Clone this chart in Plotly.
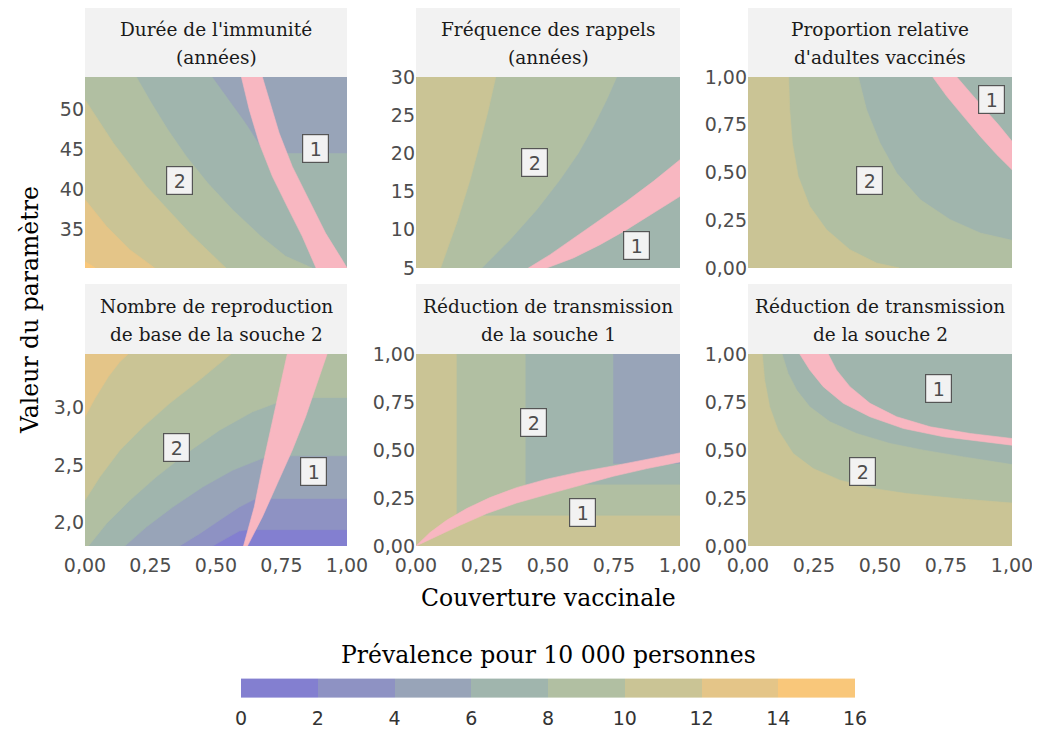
import plotly.graph_objects as go
from plotly.subplots import make_subplots

W, H = 1040, 734

# ---------------- data ----------------
levels = [0, 2, 4, 6, 8, 10, 12, 14, 16]
level_colors = ["#837fd0", "#8e92c3", "#98a4b8", "#a0b5ad",
                "#b1bfa2", "#cac495", "#e4c588", "#f9c77a"]
band_color = "#f8b7c1"
x_ticks = [0, 0.25, 0.5, 0.75, 1.0]

titles = [
    ("Durée de l'immunité", "(années)"),
    ("Fréquence des rappels", "(années)"),
    ("Proportion relative", "d'adultes vaccinés"),
    ("Nombre de reproduction", "de base de la souche 2"),
    ("Réduction de transmission", "de la souche 1"),
    ("Réduction de transmission", "de la souche 2"),
]

# Panel 1 : durée de l'immunité
p1_yrange = [30.2, 54.1]
p1_yticks = [35, 40, 45, 50]
p1_ge14_x = [0, 0.04]
p1_ge14_y = [31.0, 30.2]
p1_ge12_x = [0, 0.082, 0.171, 0.266]
p1_ge12_y = [38.76, 35.41, 32.49, 30.2]
p1_ge10_x = [0, 0.108, 0.234, 0.399, 0.538]
p1_ge10_y = [51.26, 45.83, 40.43, 34.57, 30.2]
p1_ge8_x = [0.196, 0.253, 0.316, 0.386, 0.468, 0.563, 0.671, 0.766, 0.867]
p1_ge8_y = [54.1, 50.85, 47.50, 44.18, 40.84, 37.49, 34.17, 31.66, 30.2]
p1_lt6_x = [0.487, 0.551, 0.614, 0.671, 0.75, 1.0]
p1_lt6_y = [54.1, 51.26, 48.34, 45.42, 44.6, 44.6]
p1_band_a_x = [0.597, 0.627, 0.665, 0.715, 0.778, 0.829, 0.882]
p1_band_a_y = [54.1, 50.01, 45.83, 41.67, 37.49, 34.17, 30.2]
p1_band_b_x = [0.677, 0.703, 0.741, 0.791, 0.854, 0.918, 0.981, 1.0]
p1_band_b_y = [54.1, 51.26, 47.10, 42.91, 38.76, 34.57, 31.25, 30.2]
p1_labels = [("1", 0.88, 45.2), ("2", 0.36, 41.2)]

# Panel 2 : fréquence des rappels
p2_yrange = [5, 30]
p2_yticks = [5, 10, 15, 20, 25, 30]
p2_ge10_x = [0.302, 0.274, 0.242, 0.205, 0.154, 0.093]
p2_ge10_y = [30, 25.72, 21.35, 16.55, 10.9, 5]
p2_ge8_x = [0.760, 0.722, 0.672, 0.615, 0.545, 0.457, 0.356, 0.249]
p2_ge8_y = [30, 27.03, 23.55, 20.05, 16.55, 12.63, 8.71, 5]
p2_band_a_x = [1, 0.899, 0.798, 0.697, 0.596, 0.508, 0.426]
p2_band_a_y = [19.18, 16.34, 13.73, 11.33, 8.93, 6.75, 5]
p2_band_b_x = [1, 0.899, 0.798, 0.697, 0.596, 0.495]
p2_band_b_y = [14.38, 12.2, 10.02, 8.05, 6.31, 5]
p2_labels = [("2", 0.447, 18.75), ("1", 0.835, 8.0)]

# Panel 3 : proportion relative d'adultes vaccinés
p3_yrange = [0, 1]
p3_yticks = [0, 0.25, 0.5, 0.75, 1.0]
p3_ge10_x = [0.154, 0.158, 0.168, 0.190, 0.234, 0.297, 0.386, 0.487, 0.573]
p3_ge10_y = [1, 0.829, 0.654, 0.480, 0.323, 0.201, 0.096, 0.026, 0]
p3_ge8_x = [0.418, 0.449, 0.5, 0.563, 0.652, 0.766, 0.880, 1]
p3_ge8_y = [1, 0.829, 0.654, 0.497, 0.358, 0.253, 0.183, 0.145]
p3_band_a_x = [0.7, 0.753, 0.816, 0.880, 0.943, 1]
p3_band_a_y = [1, 0.899, 0.794, 0.689, 0.593, 0.515]
p3_band_b_x = [0.791, 0.842, 0.892, 0.949, 1]
p3_band_b_y = [1, 0.916, 0.838, 0.750, 0.663]
p3_labels = [("1", 0.922, 0.88), ("2", 0.46, 0.46)]

# Panel 4 : nombre de reproduction de base de la souche 2
p4_yrange = [1.79, 3.47]
p4_yticks = [2.0, 2.5, 3.0]
p4_ge2_x = [0.487, 0.538, 0.589, 0.620, 1]
p4_ge2_y = [1.79, 1.854, 1.921, 1.933, 1.933]
p4_ge4_x = [0.361, 0.437, 0.513, 0.589, 0.646, 0.715, 1]
p4_ge4_y = [1.79, 1.898, 2.015, 2.131, 2.199, 2.205, 2.205]
p4_ge6_x = [0.152, 0.234, 0.335, 0.449, 0.563, 0.684, 0.791, 1]
p4_ge6_y = [1.79, 1.956, 2.131, 2.307, 2.453, 2.564, 2.579, 2.579]
p4_ge8_x = [0.013, 0.082, 0.171, 0.272, 0.386, 0.513, 0.639, 0.741, 0.867, 1]
p4_ge8_y = [1.79, 1.986, 2.19, 2.395, 2.60, 2.803, 2.964, 3.052, 3.09, 3.09]
p4_ge10_x = [0, 0.057, 0.133, 0.222, 0.323, 0.437, 0.557]
p4_ge10_y = [2.190, 2.395, 2.628, 2.833, 3.038, 3.242, 3.47]
p4_ge12_x = [0, 0.038, 0.089, 0.133, 0.165]
p4_ge12_y = [2.921, 3.082, 3.272, 3.403, 3.47]
p4_band_a_x = [0.772, 0.741, 0.709, 0.677, 0.646, 0.605]
p4_band_a_y = [3.47, 3.155, 2.833, 2.482, 2.131, 1.79]
p4_band_b_x = [0.924, 0.886, 0.842, 0.791, 0.734, 0.677, 0.620]
p4_band_b_y = [3.47, 3.213, 2.921, 2.628, 2.336, 2.044, 1.79]
p4_labels = [("2", 0.35, 2.65), ("1", 0.872, 2.44)]

# Panel 5 : réduction de transmission de la souche 1
p5_yrange = [0, 1]
p5_yticks = [0, 0.25, 0.5, 0.75, 1.0]
p5_lt10_x = [0.154, 1, 1, 0.154]
p5_lt10_y = [0.16, 0.16, 1, 1]
p5_lt8_x = [0.415, 1, 1, 0.415]
p5_lt8_y = [0.322, 0.322, 1, 1]
p5_lt6_x = [0.747, 1, 1, 0.747]
p5_lt6_y = [0.43, 0.43, 1, 1]
p5_band_a_x = [0, 0.053, 0.116, 0.192, 0.280, 0.381, 0.495, 0.621, 0.747, 0.874, 1]
p5_band_a_y = [0, 0.07, 0.134, 0.195, 0.252, 0.304, 0.348, 0.386, 0.417, 0.452, 0.485]
p5_band_b_x = [0, 0.078, 0.167, 0.268, 0.381, 0.508, 0.634, 0.747, 0.874, 1]
p5_band_b_y = [0, 0.05, 0.108, 0.169, 0.224, 0.273, 0.322, 0.363, 0.403, 0.438]
p5_labels = [("2", 0.446, 0.643), ("1", 0.63, 0.172)]

# Panel 6 : réduction de transmission de la souche 2
p6_yrange = [0, 1]
p6_yticks = [0, 0.25, 0.5, 0.75, 1.0]
p6_ge8_x = [0.129, 0.152, 0.184, 0.234, 0.310, 0.411, 0.538, 0.665, 0.816, 1]
p6_ge8_y = [1, 0.899, 0.812, 0.725, 0.647, 0.586, 0.534, 0.499, 0.464, 0.424]
p6_ge10_x = [0.054, 0.063, 0.082, 0.114, 0.171, 0.247, 0.348, 0.475, 0.601, 0.791, 1]
p6_ge10_y = [1, 0.864, 0.725, 0.603, 0.482, 0.403, 0.343, 0.299, 0.273, 0.247, 0.224]
p6_band_a_x = [0.196, 0.234, 0.285, 0.361, 0.462, 0.589, 0.741, 0.892, 1]
p6_band_a_y = [1, 0.917, 0.830, 0.743, 0.673, 0.612, 0.569, 0.543, 0.525]
p6_band_b_x = [0.304, 0.335, 0.386, 0.462, 0.563, 0.690, 0.842, 1]
p6_band_b_y = [1, 0.917, 0.830, 0.743, 0.673, 0.621, 0.586, 0.560]
p6_labels = [("1", 0.72, 0.822), ("2", 0.433, 0.39)]

# level index of each region: index into level_colors
panels = [
    dict(yrange=p1_yrange, yticks=p1_yticks, yfmt="d", bg=3,
         regions=[(2, p1_lt6_x, p1_lt6_y, ["tr"]),
                  (4, p1_ge8_x, p1_ge8_y, ["bl", "tl"]),
                  (5, p1_ge10_x, p1_ge10_y, ["bl"]),
                  (6, p1_ge12_x, p1_ge12_y, ["bl"]),
                  (7, p1_ge14_x, p1_ge14_y, ["bl"])],
         band=(p1_band_a_x, p1_band_a_y, p1_band_b_x, p1_band_b_y),
         labels=p1_labels),
    dict(yrange=p2_yrange, yticks=p2_yticks, yfmt="d", bg=3,
         regions=[(4, p2_ge8_x, p2_ge8_y, ["bl", "tl"]),
                  (5, p2_ge10_x, p2_ge10_y, ["bl", "tl"])],
         band=(p2_band_a_x, p2_band_a_y, p2_band_b_x, p2_band_b_y),
         labels=p2_labels),
    dict(yrange=p3_yrange, yticks=p3_yticks, yfmt=".2f", bg=3,
         regions=[(4, p3_ge8_x, p3_ge8_y, ["br", "bl", "tl"]),
                  (5, p3_ge10_x, p3_ge10_y, ["bl", "tl"])],
         band=(p3_band_a_x, p3_band_a_y, p3_band_b_x, p3_band_b_y),
         labels=p3_labels),
    dict(yrange=p4_yrange, yticks=p4_yticks, yfmt=".1f", bg=0,
         regions=[(1, p4_ge2_x, p4_ge2_y, ["tr", "tl", "bl"]),
                  (2, p4_ge4_x, p4_ge4_y, ["tr", "tl", "bl"]),
                  (3, p4_ge6_x, p4_ge6_y, ["tr", "tl", "bl"]),
                  (4, p4_ge8_x, p4_ge8_y, ["tr", "tl", "bl"]),
                  (5, p4_ge10_x, p4_ge10_y, ["tl"]),
                  (6, p4_ge12_x, p4_ge12_y, ["tl"])],
         band=(p4_band_a_x, p4_band_a_y, p4_band_b_x, p4_band_b_y),
         labels=p4_labels),
    dict(yrange=p5_yrange, yticks=p5_yticks, yfmt=".2f", bg=5,
         regions=[(4, p5_lt10_x, p5_lt10_y, []),
                  (3, p5_lt8_x, p5_lt8_y, []),
                  (2, p5_lt6_x, p5_lt6_y, [])],
         band=(p5_band_a_x, p5_band_a_y, p5_band_b_x, p5_band_b_y),
         labels=p5_labels),
    dict(yrange=p6_yrange, yticks=p6_yticks, yfmt=".2f", bg=3,
         regions=[(4, p6_ge8_x, p6_ge8_y, ["br", "bl", "tl"]),
                  (5, p6_ge10_x, p6_ge10_y, ["br", "bl", "tl"])],
         band=(p6_band_a_x, p6_band_a_y, p6_band_b_x, p6_band_b_y),
         labels=p6_labels),
]

# ---------------- layout geometry (screen pixels) ----------------
OFF = 8  # page body margin in the photographed page
col_px = [(85, 347), (416, 680), (748, 1012)]
row_px = [(77, 268), (354, 546)]
strip_h = 70
strip_line_off = [22, 50]


def xp(px):
    return (px - OFF) / W


def yp(py):
    return 1 - (py - OFF) / H


SERIF = "DejaVu Serif"
SANS = "DejaVu Sans"
TICK_COLOR = "#4d4d4d"
TICK_SIZE = 19

fig = make_subplots(rows=2, cols=3)

for i, p in enumerate(panels):
    r, c = i // 3 + 1, i % 3 + 1
    y0, y1 = p["yrange"]
    corners = {"bl": (0, y0), "tl": (0, y1), "tr": (1, y1), "br": (1, y0)}
    fig.add_trace(go.Scatter(
        x=[0, 1, 1, 0], y=[y0, y0, y1, y1], fill="toself", mode="lines",
        line=dict(width=0), fillcolor=level_colors[p["bg"]],
        hoverinfo="skip", showlegend=False), row=r, col=c)
    for idx, xs, ys, cn in p["regions"]:
        px = list(xs) + [corners[k][0] for k in cn]
        py = list(ys) + [corners[k][1] for k in cn]
        fig.add_trace(go.Scatter(
            x=px, y=py, fill="toself", mode="lines",
            line=dict(width=0.6, color=level_colors[idx]),
            fillcolor=level_colors[idx],
            hoverinfo="skip", showlegend=False), row=r, col=c)
    ax, ay, bx, by = p["band"]
    fig.add_trace(go.Scatter(
        x=list(ax) + list(bx)[::-1], y=list(ay) + list(by)[::-1],
        fill="toself", mode="lines", line=dict(width=0.6, color=band_color),
        fillcolor=band_color, hoverinfo="skip", showlegend=False),
        row=r, col=c)

    xd = [xp(col_px[c - 1][0]), xp(col_px[c - 1][1])]
    yd = [yp(row_px[r - 1][1]), yp(row_px[r - 1][0])]
    fig.update_xaxes(domain=xd, range=[0, 1], tickvals=x_ticks,
                     tickformat=".2f", showticklabels=(r == 2),
                     showgrid=False, zeroline=False, ticks="",
                     ticklabelstandoff=6,
                     tickfont=dict(family=SANS, size=TICK_SIZE, color=TICK_COLOR),
                     row=r, col=c)
    fig.update_yaxes(domain=yd, range=[y0, y1], tickvals=p["yticks"],
                     tickformat=p["yfmt"], showgrid=False, zeroline=False,
                     ticks="", tickfont=dict(family=SANS, size=TICK_SIZE, color=TICK_COLOR),
                     row=r, col=c)

    xref = "x" if i == 0 else f"x{i + 1}"
    yref = "y" if i == 0 else f"y{i + 1}"
    for txt, lx, ly in p["labels"]:
        fig.add_annotation(x=lx, y=ly, xref=xref, yref=yref, text=txt,
                           showarrow=False, bgcolor="#f2f2f2",
                           bordercolor="#555555", borderwidth=1.2, borderpad=3,
                           width=19, height=21,
                           xanchor="center", yanchor="middle",
                           font=dict(family=SANS, size=19, color=TICK_COLOR))

    top = row_px[r - 1][0]
    fig.add_shape(type="rect", xref="paper", yref="paper",
                  x0=xd[0], x1=xd[1], y0=yp(top), y1=yp(top - strip_h),
                  fillcolor="#f2f2f2", line=dict(width=0), layer="below")
    for k, line_txt in enumerate(titles[i]):
        fig.add_annotation(x=(xd[0] + xd[1]) / 2,
                           y=yp(top - strip_h + strip_line_off[k]),
                           xref="paper", yref="paper", text=line_txt,
                           showarrow=False, xanchor="center", yanchor="middle",
                           font=dict(family=SERIF, size=18.5, color="#1a1a1a"))

# axis titles
fig.add_annotation(x=xp(548), y=yp(598), xref="paper", yref="paper",
                   text="Couverture vaccinale", showarrow=False,
                   xanchor="center", yanchor="middle",
                   font=dict(family=SERIF, size=23.5, color="#000000"))
fig.add_annotation(x=xp(30), y=yp(310), xref="paper", yref="paper",
                   text="Valeur du paramètre", showarrow=False, textangle=-90,
                   xanchor="center", yanchor="middle",
                   font=dict(family=SERIF, size=23.5, color="#000000"))
fig.add_annotation(x=xp(548), y=yp(655), xref="paper", yref="paper",
                   text="Prévalence pour 10 000 personnes", showarrow=False,
                   xanchor="center", yanchor="middle",
                   font=dict(family=SERIF, size=23.5, color="#000000"))

# colour bar
cscale = []
n = len(level_colors)
for k, col in enumerate(level_colors):
    cscale.append([k / n, col])
    cscale.append([(k + 1) / n, col])
fig.add_trace(go.Scatter(
    x=[-5], y=[0], mode="markers", hoverinfo="skip", showlegend=False,
    marker=dict(color=[0], cmin=levels[0], cmax=levels[-1], colorscale=cscale,
                size=1, showscale=True,
                colorbar=dict(orientation="h", x=xp(548), xanchor="center",
                              y=yp(704), yanchor="middle",
                              len=614, lenmode="pixels", thickness=19,
                              thicknessmode="pixels", outlinewidth=0,
                              xpad=0, ypad=0, tickvals=levels,
                              ticktext=[str(v) for v in levels],
                              ticks="outside", ticklen=5,
                              tickcolor="rgba(0,0,0,0)",
                              tickfont=dict(family=SANS, size=19, color="#333333"))),
), row=1, col=1)

fig.update_layout(width=W, height=H,
                  margin=dict(l=0, r=0, t=0, b=0, autoexpand=False),
                  paper_bgcolor="white", plot_bgcolor="white",
                  separators=", ", showlegend=False,
                  font=dict(family=SANS, color=TICK_COLOR))

fig.write_html("out.html")
